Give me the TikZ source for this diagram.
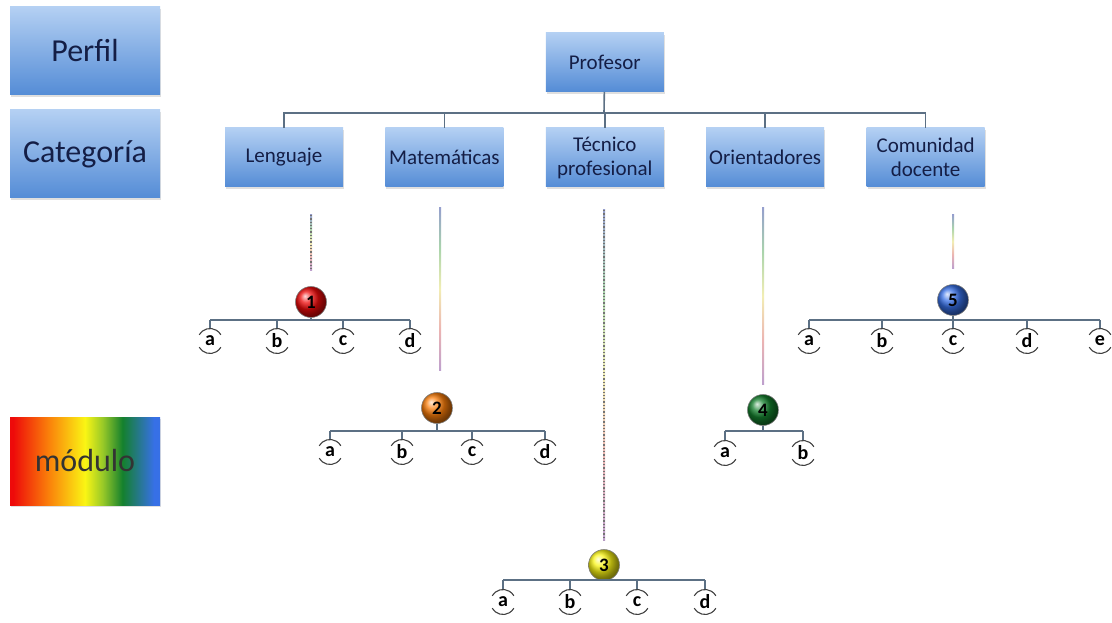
\documentclass[tikz,border=0pt]{standalone}
\usepackage{fontspec}
\setmainfont{Carlito}
\usetikzlibrary{positioning, shadows}

\definecolor{boxtop}{RGB}{180,208,243}
\definecolor{boxbot}{RGB}{84,140,214}
\definecolor{boxtxt}{RGB}{20,30,70}
\definecolor{busline}{RGB}{92,112,132}
\definecolor{mred}{RGB}{238,10,10}
\definecolor{morange}{RGB}{250,125,10}
\definecolor{myellow}{RGB}{250,245,20}
\definecolor{mlime}{RGB}{150,200,40}
\definecolor{mgreen}{RGB}{20,128,45}
\definecolor{mblue}{RGB}{55,112,230}
\definecolor{lnpurple}{RGB}{190,160,205}
\definecolor{lnred}{RGB}{236,180,178}
\definecolor{lnyellow}{RGB}{242,238,180}
\definecolor{lngreen}{RGB}{170,212,172}
\definecolor{lnblue}{RGB}{150,160,205}

% rainbow of the modulo box and of the guide lines
\pgfdeclarehorizontalshading{modshade}{100bp}{color(0bp)=(mred); color(26bp)=(mred);
  color(37.5bp)=(morange); color(50bp)=(myellow); color(56bp)=(mlime);
  color(62.5bp)=(mgreen); color(73bp)=(mblue); color(100bp)=(mblue)}
\pgfdeclareverticalshading{guideshade}{100bp}{color(0bp)=(lnpurple); color(25bp)=(lnpurple);
  color(37.5bp)=(lnred); color(50bp)=(lnyellow); color(62.5bp)=(lngreen);
  color(75bp)=(lnblue); color(100bp)=(lnblue)}

\begin{document}
\begin{tikzpicture}[
    x=1pt, y=1pt,
    box/.style={rectangle, top color=boxtop, bottom color=boxbot, text=boxtxt,
        drop shadow={opacity=0.25, shadow xshift=1pt, shadow yshift=-2pt}, align=center},
    sidebox/.style={box, minimum width=150pt, minimum height=88pt, font=\fontsize{32}{36}\selectfont},
    catbox/.style={box, minimum width=118pt, minimum height=59pt, inner sep=1pt,
        font=\fontsize{21}{24}\selectfont},
    bus/.style={draw=busline, line width=1.6pt},
    modball/.style={circle, shading=ball, draw=black!50, line width=0.6pt, minimum size=31pt,
        inner sep=0pt, font=\bfseries\fontsize{19}{19}\selectfont},
    leaf/.style={circle, minimum size=25pt, inner sep=0pt, outer sep=0pt,
        font=\bfseries\fontsize{20}{20}\selectfont},
    paren/.style={draw=black!75, line width=1.1pt},
    guide/.style={shading=guideshade},
    dots/.style={draw=black!55, line width=1.3pt, dotted}
]
    \useasboundingbox (0,0) rectangle (1112,-623);

    % left column
    \node[sidebox] (perfil) at (85,-51) {Perfil};
    \node[sidebox] (categ) at (85,-154) {Categoría};
    \node[sidebox, shading=modshade, drop shadow={opacity=0}, text=black!80] (modulo) at (85,-461) {módulo};

    % profile and categories
    \node[catbox] (len) at (284,-157.5) {Lenguaje};
    \node[catbox, right=42pt of len] (mat) {Matemáticas};
    \node[catbox, right=42pt of mat] (tec) {Técnico\\profesional};
    \node[catbox, right=42pt of tec] (ori) {Orientadores};
    \node[catbox, right=42pt of ori] (com) {Comunidad\\docente};
    \node[catbox, above=36pt of tec] (prof) {Profesor};

    \coordinate (hub) at (604,-113);
    \draw[bus] (prof) -- (hub);
    \draw[bus] (len.north) |- (hub) -| (com.north);
    \foreach \c in {mat,tec,ori}
        \draw[bus] (\c.north) -- (\c.north |- hub);

    % guide lines from categories to modules
    \coordinate (g1a) at (311,-215); \coordinate (g1b) at (311,-270);
    \coordinate (g2a) at (440,-208); \coordinate (g2b) at (440,-370);
    \coordinate (g3a) at (604,-210); \coordinate (g3b) at (604,-540);
    \coordinate (g4a) at (763,-208); \coordinate (g4b) at (763,-384);
    \coordinate (g5a) at (953,-215); \coordinate (g5b) at (953,-268);
    \foreach \g in {1,...,5}
        \shade[guide] ([xshift=-1pt]g\g a) rectangle ([xshift=1pt]g\g b);
    \draw[dots] (g1a) -- (g1b);
    \draw[dots] (g3a) -- (g3b);

    % module 1
    \node[modball, ball color=mred] (m1) at (311,-302) {1};
    \coordinate (b1) at (210,-320);
    \draw[bus] (b1) -- (410,-320);
    \draw[bus] (m1) -- (m1 |- b1);
    \foreach \l/\x in {a/210,b/277,c/343,d/410} {
        \node[leaf] (m1\l) at (\x,-341) {\l};
        \draw[bus] (m1\l |- b1) -- (m1\l.north);
        \draw[paren] (m1\l.150) arc[start angle=150, end angle=30, radius=12.5pt];
        \draw[paren] (m1\l.210) arc[start angle=210, end angle=330, radius=12.5pt];
    }

    % module 2
    \node[modball, ball color=morange] (m2) at (437,-408) {2};
    \coordinate (b2) at (330,-431);
    \draw[bus] (b2) -- (545,-431);
    \draw[bus] (m2) -- (m2 |- b2);
    \foreach \l/\x in {a/330,b/402,c/472,d/545} {
        \node[leaf] (m2\l) at (\x,-452) {\l};
        \draw[bus] (m2\l |- b2) -- (m2\l.north);
        \draw[paren] (m2\l.150) arc[start angle=150, end angle=30, radius=12.5pt];
        \draw[paren] (m2\l.210) arc[start angle=210, end angle=330, radius=12.5pt];
    }

    % module 3
    \node[modball, ball color=myellow] (m3) at (604,-565) {3};
    \coordinate (b3) at (503,-580);
    \draw[bus] (b3) -- (705,-580);
    \draw[bus] (m3) -- (m3 |- b3);
    \foreach \l/\x in {a/503,b/570,c/637,d/705} {
        \node[leaf] (m3\l) at (\x,-602) {\l};
        \draw[bus] (m3\l |- b3) -- (m3\l.north);
        \draw[paren] (m3\l.150) arc[start angle=150, end angle=30, radius=12.5pt];
        \draw[paren] (m3\l.210) arc[start angle=210, end angle=330, radius=12.5pt];
    }

    % module 4
    \node[modball, ball color=mgreen] (m4) at (763,-410) {4};
    \coordinate (b4) at (725,-431);
    \draw[bus] (b4) -- (803,-431);
    \draw[bus] (m4) -- (m4 |- b4);
    \foreach \l/\x in {a/725,b/803} {
        \node[leaf] (m4\l) at (\x,-453) {\l};
        \draw[bus] (m4\l |- b4) -- (m4\l.north);
        \draw[paren] (m4\l.150) arc[start angle=150, end angle=30, radius=12.5pt];
        \draw[paren] (m4\l.210) arc[start angle=210, end angle=330, radius=12.5pt];
    }

    % module 5
    \node[modball, ball color=mblue] (m5) at (953,-300) {5};
    \coordinate (b5) at (809,-320);
    \draw[bus] (b5) -- (1100,-320);
    \draw[bus] (m5) -- (m5 |- b5);
    \foreach \l/\x in {a/809,b/882,c/953,d/1027,e/1100} {
        \node[leaf] (m5\l) at (\x,-341) {\l};
        \draw[bus] (m5\l |- b5) -- (m5\l.north);
        \draw[paren] (m5\l.150) arc[start angle=150, end angle=30, radius=12.5pt];
        \draw[paren] (m5\l.210) arc[start angle=210, end angle=330, radius=12.5pt];
    }
\end{tikzpicture}
\end{document}
